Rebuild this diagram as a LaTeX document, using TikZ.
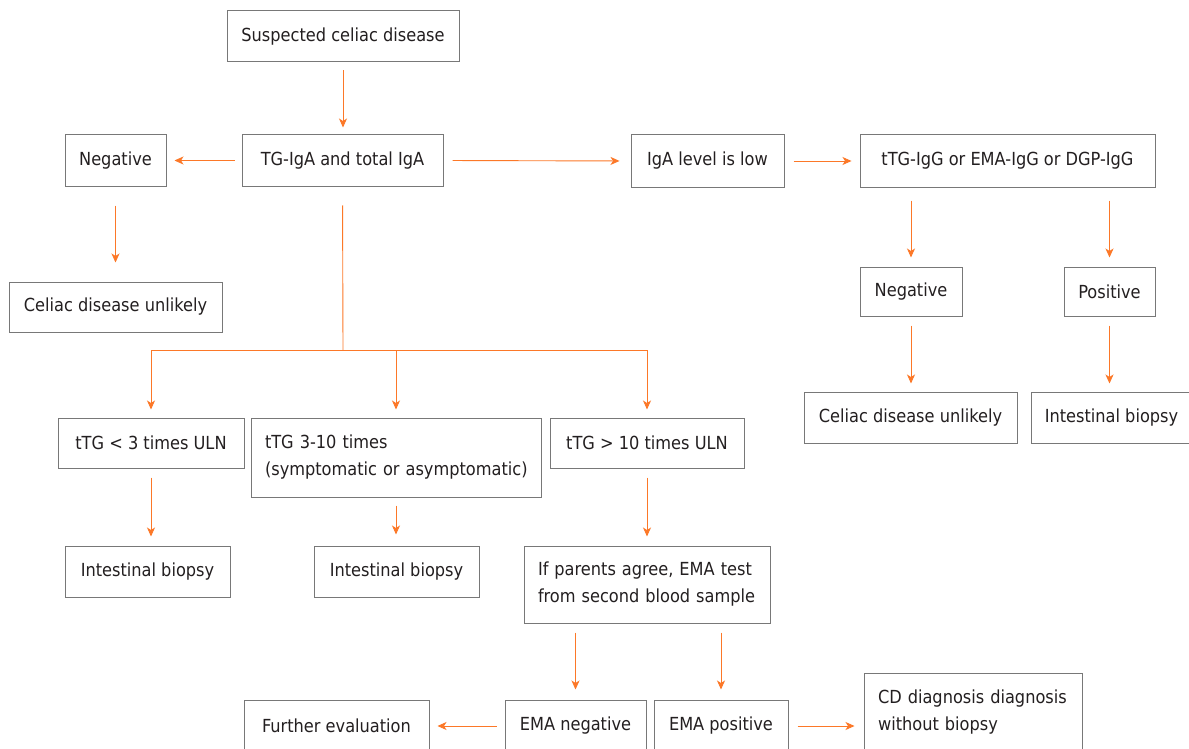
\documentclass[tikz,border=0pt]{standalone}
\usepackage{fontspec}
\setmainfont{DejaVu Sans Condensed}
\usetikzlibrary{arrows.meta}
\definecolor{arrc}{RGB}{252,120,40}
\definecolor{bord}{RGB}{120,120,120}
\definecolor{txt}{RGB}{35,31,32}
\tikzset{
  box/.style={draw=bord, line width=1pt, text=txt, inner sep=0pt, font=\fontsize{18}{27}\selectfont, align=center},
  lbox/.style={draw=bord, line width=1pt, text=txt, inner xsep=14pt, inner ysep=0pt, font=\fontsize{18}{27}\selectfont, align=left},
  arr/.style={draw=arrc, line width=0.9pt, -{Stealth[length=9pt,width=8pt,inset=2.5pt]}},
  plain/.style={draw=arrc, line width=0.9pt}
}
\newcommand\mybox[6]{\node[box, minimum width={#4-#2}, minimum height={#5-#3}] (#1) at ({(#2+#4)/2},{(#3+#5)/2}) {#6};}
\newcommand\myleftbox[6]{\node[lbox, text width={#4-#2-28}, minimum width={#4-#2}, minimum height={#5-#3}] (#1) at ({(#2+#4)/2},{(#3+#5)/2}) {#6};}
\begin{document}
\begin{tikzpicture}[x=1pt,y=-1pt]
\clip (0,0) rectangle (1189,749);
\fill[white] (0,0) rectangle (1189,749);
\mybox{sus}{227}{11}{459}{62}{Suspected celiac disease}
\mybox{tg}{242}{135}{443}{186}{TG-IgA and total IgA}
\mybox{neg1}{65}{135}{166}{186}{Negative}
\mybox{cdu1}{9}{282}{222}{332}{Celiac disease unlikely}
\mybox{low}{631}{135}{784}{187}{IgA level is low}
\mybox{igg}{860}{135}{1155}{187}{tTG-IgG or EMA-IgG or DGP-IgG}
\mybox{neg2}{860}{267}{962}{316}{Negative}
\mybox{pos}{1064}{267}{1155}{316}{Positive}
\mybox{cdu2}{804}{392}{1017}{443}{Celiac disease unlikely}
\mybox{ib3}{1031}{392}{1192}{443}{Intestinal biopsy}
\mybox{lt3}{58}{418}{244}{468}{tTG < 3 times ULN}
\myleftbox{mid}{251}{418}{541}{497}{\mbox{tTG 3-10 times}\\\mbox{(symptomatic or asymptomatic)}}
\mybox{gt10}{550}{418}{744}{468}{tTG > 10 times ULN}
\mybox{ib1}{65}{546}{230}{597}{Intestinal biopsy}
\mybox{ib2}{314}{546}{479}{597}{Intestinal biopsy}
\myleftbox{par}{524}{546}{770}{623}{\mbox{If parents agree, EMA test}\\\mbox{from second blood sample}}
\mybox{eneg}{505}{700}{646}{752}{EMA negative}
\mybox{epos}{654}{700}{788}{752}{EMA positive}
\mybox{fur}{244}{700}{429}{752}{Further evaluation}
\myleftbox{cd}{864}{673}{1082}{752}{\mbox{CD diagnosis diagnosis}\\\mbox{without biopsy}}
\coordinate (j) at (343,350);
\draw[arr, shorten <=8pt, shorten >=7pt] (sus.south) -- (sus.south |- tg.north);
\draw[arr, shorten <=7pt, shorten >=8pt] (tg.west) -- (neg1.east);
\draw[arr, shorten <=19pt, shorten >=19pt] (neg1.south) -- (neg1.south |- cdu1.north);
\draw[arr, shorten <=9pt, shorten >=11pt] (tg.east) -- (low.west);
\draw[arr, shorten <=9pt, shorten >=8pt] (low.east) -- (igg.west);
\draw[arr, shorten <=13pt, shorten >=9pt] (neg2.north |- igg.south) -- (neg2.north);
\draw[arr, shorten <=13pt, shorten >=9pt] (pos.north |- igg.south) -- (pos.north);
\draw[arr, shorten <=9pt, shorten >=8pt] (neg2.south) -- (neg2.south |- cdu2.north);
\draw[arr, shorten <=9pt, shorten >=8pt] (pos.south) -- (pos.south |- ib3.north);
\draw[plain, shorten <=19pt] (tg.south) -- (j);
\draw[arr, shorten >=8pt] (j) -| (lt3.north);
\draw[arr, shorten >=8pt] (j) -| (mid.north);
\draw[arr, shorten >=8pt] (j) -| (gt10.north);
\draw[arr, shorten <=9pt, shorten >=9pt] (lt3.south) -- (lt3.south |- ib1.north);
\draw[arr, shorten <=8pt, shorten >=11pt] (mid.south) -- (mid.south |- ib2.north);
\draw[arr, shorten <=9pt, shorten >=9pt] (gt10.south) -- (gt10.south |- par.north);
\draw[arr, shorten <=9pt, shorten >=10pt] (eneg.north |- par.south) -- (eneg.north);
\draw[arr, shorten <=9pt, shorten >=10pt] (epos.north |- par.south) -- (epos.north);
\draw[arr, shorten <=8pt, shorten >=8pt] (eneg.west) -- (eneg.west -| fur.east);
\draw[arr, shorten <=9pt, shorten >=9pt] (epos.east) -- (epos.east -| cd.west);
\end{tikzpicture}
\end{document}
